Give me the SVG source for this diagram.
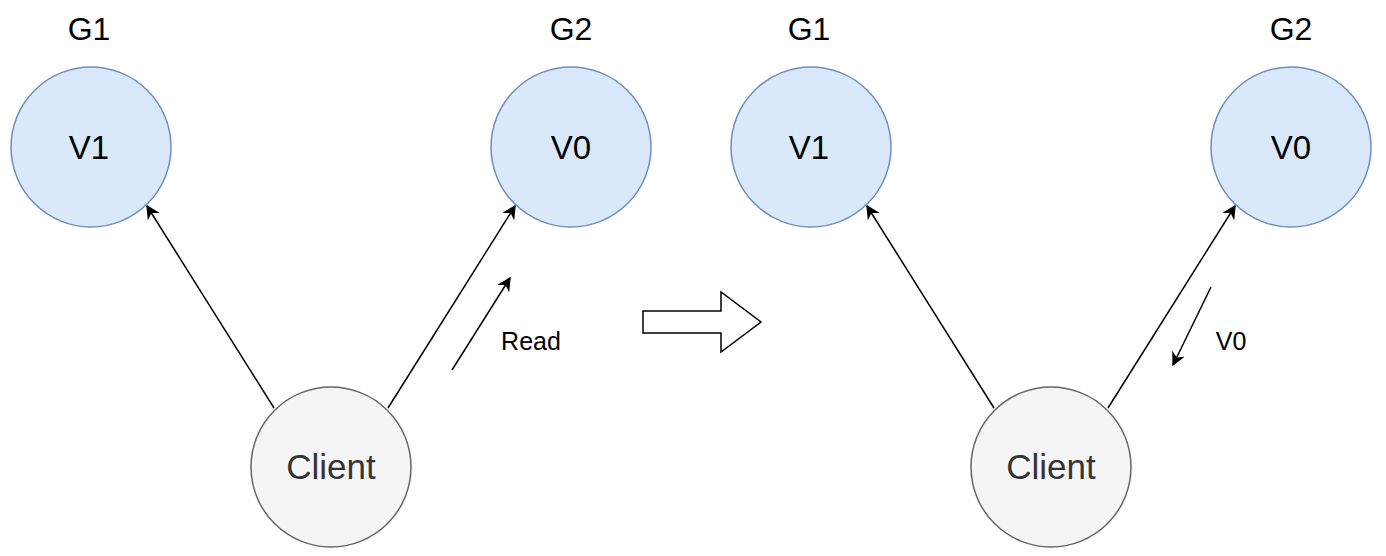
<svg xmlns="http://www.w3.org/2000/svg" width="1386" height="556" viewBox="0 0 1386 556">
<style>
.v{fill:#dae8fc;stroke:#6c8ebf;stroke-width:1.5}
.c{fill:#f5f5f5;stroke:#666;stroke-width:1.5}
.t{font-family:"Liberation Sans",Arial,sans-serif;fill:#000;text-anchor:middle}
.ct{font-family:"Liberation Sans",Arial,sans-serif;fill:#333;text-anchor:middle;font-size:35px}
.e{stroke:#000;stroke-width:1.5;fill:none;marker-end:url(#ah)}
</style>
<defs>
<marker id="ah" viewBox="0 0 10 10" refX="9" refY="5" markerWidth="14" markerHeight="14" orient="auto" markerUnits="userSpaceOnUse">
<path d="M0,0 L10,5 L0,10 L3,5 Z" fill="#000"/>
</marker>
</defs>
<g id="connectors">
<line class="e" x1="274" y1="408" x2="147" y2="206"/>
<line class="e" x1="388" y1="408" x2="515" y2="206"/>
<line class="e" x1="994" y1="408" x2="867" y2="206"/>
<line class="e" x1="1108" y1="408" x2="1235" y2="206"/>
<line class="e" x1="452" y1="370" x2="510" y2="278"/>
<line class="e" x1="1211" y1="287" x2="1173" y2="365"/>
</g>
<g id="left-G1">
<text class="t" x="89" y="40" font-size="32">G1</text>
<circle class="v" cx="91" cy="147" r="80"/>
<text class="t" x="89" y="159" font-size="33">V1</text>
</g>
<g id="left-G2">
<text class="t" x="571" y="40" font-size="32">G2</text>
<circle class="v" cx="571" cy="147" r="80"/>
<text class="t" x="571" y="159" font-size="33">V0</text>
</g>
<g id="left-client">
<circle class="c" cx="331" cy="467" r="80"/>
<text class="ct" x="331" y="479">Client</text>
</g>
<g id="label-read">
<text class="t" x="531" y="350" font-size="25">Read</text>
</g>
<g id="transition-arrow">
<path d="M643,311 L721,311 L721,292 L761,322 L721,352 L721,333 L643,333 Z" fill="#fff" stroke="#000" stroke-width="1.5"/>
</g>
<g id="right-G1">
<text class="t" x="809" y="40" font-size="32">G1</text>
<circle class="v" cx="811" cy="147" r="80"/>
<text class="t" x="809" y="159" font-size="33">V1</text>
</g>
<g id="right-G2">
<text class="t" x="1291" y="40" font-size="32">G2</text>
<circle class="v" cx="1291" cy="147" r="80"/>
<text class="t" x="1291" y="159" font-size="33">V0</text>
</g>
<g id="right-client">
<circle class="c" cx="1051" cy="467" r="80"/>
<text class="ct" x="1051" y="479">Client</text>
</g>
<g id="label-v0">
<text class="t" x="1231" y="350" font-size="25">V0</text>
</g>
</svg>
